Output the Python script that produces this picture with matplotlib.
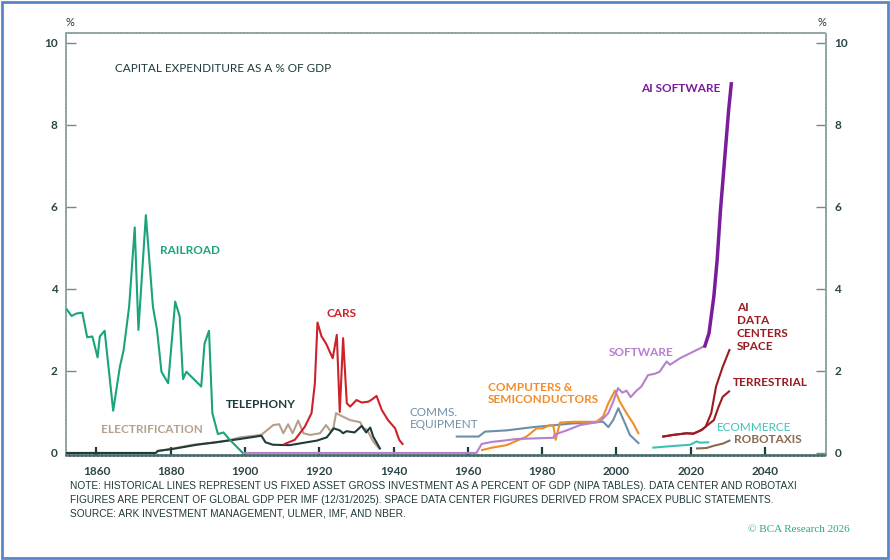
import matplotlib
matplotlib.use("Agg")
import matplotlib.pyplot as plt
from matplotlib.patches import Rectangle

# values (% of GDP)
railroad_years = [1852, 1853.3, 1854.6, 1856.2, 1857.5, 1858.9, 1860.3, 1860.9, 1862.2, 1864.5,
                  1866.3, 1867.3, 1868.8, 1870.3, 1871.3, 1873.3, 1875.2, 1876.3, 1877.5, 1879.3,
                  1881.2, 1882.4, 1883.3, 1884.2, 1888.2, 1889.1, 1890.3, 1891.2, 1892.7, 1894.2,
                  1895.8, 1899.4]
railroad_vals = [3.5, 3.34, 3.4, 3.42, 2.82, 2.84, 2.33, 2.84, 2.98, 1.03,
                 2.1, 2.5, 3.57, 5.5, 3.0, 5.8, 3.57, 3.0, 1.98, 1.7,
                 3.69, 3.33, 1.8, 1.98, 1.62, 2.67, 2.98, 0.97, 0.46, 0.5,
                 0.33, 0.0]

telephony_years = [1852, 1876, 1876.5, 1880.7, 1887, 1893, 1898.6, 1904.4, 1905.5, 1907.5,
                   1912, 1914, 1916.6, 1919.3, 1922, 1923.9, 1925.5, 1926.4, 1927.3, 1929.5,
                   1931.4, 1932.6, 1933.7, 1934.5, 1936.3]
telephony_vals = [0, 0, 0.05, 0.1, 0.2, 0.27, 0.34, 0.42, 0.26, 0.2,
                  0.19, 0.22, 0.26, 0.3, 0.38, 0.6, 0.55, 0.48, 0.53, 0.5,
                  0.66, 0.5, 0.62, 0.4, 0.11]

electrification_years = [1876.5, 1880.7, 1886, 1892.4, 1896.6, 1898.6, 1903.5, 1904.5, 1907.6, 1909.2,
                         1910.3, 1911.6, 1912.8, 1914.3, 1915.7, 1917.5, 1920.2, 1921.8, 1923.1, 1923.8,
                         1924.5, 1926, 1928.3, 1931, 1931.8, 1932.8, 1934.5, 1936.1]
electrification_vals = [0.04, 0.11, 0.2, 0.26, 0.33, 0.38, 0.43, 0.45, 0.68, 0.7,
                        0.48, 0.7, 0.48, 0.79, 0.48, 0.44, 0.48, 0.68, 0.52, 0.62,
                        0.97, 0.9, 0.8, 0.75, 0.61, 0.57, 0.28, 0.11]

cars_years = [1910.7, 1913.4, 1916.1, 1917.9, 1918.8, 1919.5, 1920.6, 1921.8, 1923.6, 1924.7,
              1925.5, 1926.4, 1927.4, 1928.3, 1930.0, 1931.4, 1933.2, 1934.1, 1935.4, 1936.8,
              1938.5, 1940.4, 1941.5, 1942.4]
cars_vals = [0.22, 0.32, 0.64, 0.97, 1.7, 3.18, 2.84, 2.67, 2.31, 2.88,
             1.0, 2.8, 1.21, 1.13, 1.29, 1.23, 1.25, 1.3, 1.39, 1.05,
             0.8, 0.6, 0.32, 0.22]

comms_years = [1957, 1962.9, 1964.6, 1970.4, 1977.6, 1988.3, 1996.4, 1997.8, 1999.1, 2000.5,
               2002.3, 2003.6, 2005.9]
comms_vals = [0.4, 0.4, 0.52, 0.55, 0.63, 0.72, 0.76, 0.63, 0.8, 1.09,
              0.72, 0.44, 0.24]

computers_years = [1963.8, 1966.5, 1970.4, 1975.8, 1978.5, 1980.2, 1982.1, 1983.0, 1983.6, 1984.8,
                   1988.3, 1994.6, 1996.4, 1997.8, 1999.6, 2000.9, 2002.7, 2004.5, 2005.9]
computers_vals = [0.07, 0.13, 0.19, 0.4, 0.6, 0.6, 0.68, 0.66, 0.32, 0.74,
                  0.76, 0.76, 0.89, 1.21, 1.52, 1.25, 0.97, 0.72, 0.48]

software_years = [1900, 1962.3, 1963.7, 1966.5, 1969.5, 1973.1, 1983.0, 1983.4, 1986.6, 1990.2,
                  1995.5, 1997.8, 1999.1, 2000.4, 2001.6, 2002.7, 2003.8, 2005.4, 2006.7, 2008.5,
                  2010.3, 2011.6, 2013.5, 2014.4, 2017.1, 2019.8, 2023.8]
software_vals = [0, 0, 0.22, 0.27, 0.3, 0.34, 0.37, 0.45, 0.55, 0.68,
                 0.76, 0.97, 1.25, 1.58, 1.47, 1.52, 1.36, 1.52, 1.62, 1.9,
                 1.93, 1.98, 2.23, 2.15, 2.31, 2.43, 2.61]

ai_software_years = [2023.8, 2024.9, 2026.2, 2027.1, 2028.0, 2029.1, 2030.2, 2030.9]
ai_software_vals = [2.61, 2.92, 3.81, 4.71, 5.93, 7.15, 8.37, 9.0]

dc_space_years = [2012.6, 2015.3, 2018.9, 2020.7, 2022.9, 2024.0, 2025.5, 2026.8, 2028.6, 2030.4]
dc_space_vals = [0.4, 0.44, 0.48, 0.47, 0.56, 0.64, 0.97, 1.62, 2.1, 2.51]

dc_terr_years = [2012.6, 2015.3, 2018.9, 2020.7, 2022.9, 2024.0, 2026.2, 2027.5, 2028.6, 2030.3]
dc_terr_vals = [0.4, 0.44, 0.48, 0.47, 0.56, 0.64, 0.8, 1.13, 1.37, 1.5]

ecommerce_years = [2009.9, 2015.3, 2019.8, 2021.6, 2022.5, 2024.7]
ecommerce_vals = [0.13, 0.17, 0.2, 0.28, 0.25, 0.26]

robotaxi_years = [2021.7, 2024.2, 2026.0, 2028.7, 2030.4]
robotaxi_vals = [0.11, 0.12, 0.17, 0.23, 0.3]

x_ticks = [1860, 1880, 1900, 1920, 1940, 1960, 1980, 2000, 2020, 2040]
y_ticks = [0, 2, 4, 6, 8, 10]

DARK = "#1f3b3b"
GREEN = "#1aa37c"
TAN = "#b4a08c"
RED = "#cc2229"
GREYBLUE = "#6d8ea8"
ORANGE = "#f08d2a"
LPURPLE = "#b77fd0"
DPURPLE = "#7a1c9c"
DRED = "#9a1b22"
TEAL = "#3fc1b4"
BROWN = "#8b6a52"

plt.rcParams['font.family'] = ['Lato', 'DejaVu Sans']

fig = plt.figure(figsize=(8.9, 5.6), dpi=100)
ax = fig.add_axes([66 / 890, 1 - 455 / 560, (826 - 66) / 890, (455 - 33) / 560])

lw = 1.5
ax.plot(telephony_years, telephony_vals, color=DARK, lw=lw, zorder=3)
ax.plot(electrification_years, electrification_vals, color=TAN, lw=lw, zorder=2)
ax.plot(railroad_years, railroad_vals, color=GREEN, lw=lw, zorder=3)
ax.plot(cars_years, cars_vals, color=RED, lw=lw, zorder=3)
ax.plot(comms_years, comms_vals, color=GREYBLUE, lw=lw, zorder=3)
ax.plot(computers_years, computers_vals, color=ORANGE, lw=lw, zorder=3)
ax.plot(software_years, software_vals, color=LPURPLE, lw=lw, zorder=3)
ax.plot(ai_software_years, ai_software_vals, color=DPURPLE, lw=2.5, zorder=4)
ax.plot(dc_space_years, dc_space_vals, color=DRED, lw=lw, zorder=3)
ax.plot(dc_terr_years, dc_terr_vals, color=DRED, lw=lw, zorder=3)
ax.plot(ecommerce_years, ecommerce_vals, color=TEAL, lw=lw, zorder=3)
ax.plot(robotaxi_years, robotaxi_vals, color=BROWN, lw=lw, zorder=3)

ax.set_xlim(1851.8, 2056.4)
ax.set_ylim(-0.05, 10.24)

# frame
for side in ["top", "right", "left"]:
    ax.spines[side].set_color("#8aa3a1")
    ax.spines[side].set_linestyle((0, (1, 0.8)))
    ax.spines[side].set_linewidth(1.3)
ax.spines["bottom"].set_color("#4c6b6a")
ax.spines["bottom"].set_linestyle((0, (1, 0.6)))
ax.spines["bottom"].set_linewidth(1.8)

ax.set_xticks(x_ticks)
ax.set_yticks(y_ticks)
ax.tick_params(axis="x", direction="in", length=6, width=1.6, color=DARK,
               labelsize=8.5, labelcolor="#2b4444", pad=8)
ax.tick_params(axis="y", direction="in", length=7, width=1.0, color="#6f8b8a",
               labelsize=8.5, labelcolor="#2b4444", pad=6,
               left=True, right=True, labelleft=True, labelright=True)
for lab in ax.get_xticklabels() + ax.get_yticklabels():
    lab.set_fontweight("bold")

fs = 8.5
ax.text(1865.0, 9.37, "CAPITAL EXPENDITURE AS A % OF GDP", color=DARK, fontsize=fs,
        ha="left", va="center")
ax.text(1877.1, 4.93, "RAILROAD", color=GREEN, fontsize=fs, fontweight="bold", va="center")
ax.text(1894.9, 1.17, "TELEPHONY", color=DARK, fontsize=fs, fontweight="bold", va="center")
ax.text(1861.2, 0.56, "ELECTRIFICATION", color=TAN, fontsize=fs, fontweight="bold", va="center")
ax.text(1922.0, 3.39, "CARS", color=RED, fontsize=fs, fontweight="bold", va="center")
ax.text(1944.4, 0.84, "COMMS.\nEQUIPMENT", color=GREYBLUE, fontsize=fs, va="center",
        linespacing=1.15)
ax.text(1965.4, 1.45, "COMPUTERS &\nSEMICONDUCTORS", color=ORANGE, fontsize=fs,
        fontweight="bold", va="center", linespacing=1.15)
ax.text(1998.0, 2.46, "SOFTWARE", color=LPURPLE, fontsize=fs, fontweight="bold", va="center")
ax.text(2006.6, 8.88, "AI SOFTWARE", color=DPURPLE, fontsize=fs, fontweight="bold", va="center")
ax.text(2032.4, 3.07, "AI\nDATA\nCENTERS\nSPACE", color=DRED, fontsize=fs, fontweight="bold",
        va="center", linespacing=1.2)
ax.text(2031.3, 1.71, "TERRESTRIAL", color=DRED, fontsize=fs, fontweight="bold", va="center")
ax.text(2027.0, 0.61, "ECOMMERCE", color=TEAL, fontsize=fs, va="center")
ax.text(2031.6, 0.34, "ROBOTAXIS", color=BROWN, fontsize=fs, fontweight="bold", va="center")

fig.text(70 / 890, 1 - 22 / 560, "%", color=DARK, fontsize=8, ha="center", va="center")
fig.text(822 / 890, 1 - 22 / 560, "%", color=DARK, fontsize=8, ha="center", va="center")

note = ("NOTE: HISTORICAL LINES REPRESENT US FIXED ASSET GROSS INVESTMENT AS A PERCENT OF GDP "
        "(NIPA TABLES). DATA CENTER AND ROBOTAXI\n"
        "FIGURES ARE PERCENT OF GLOBAL GDP PER IMF (12/31/2025). SPACE DATA CENTER FIGURES "
        "DERIVED FROM SPACEX PUBLIC STATEMENTS.\n"
        "SOURCE: ARK INVESTMENT MANAGEMENT, ULMER, IMF, AND NBER.")
fig.text(70 / 890, 1 - 481 / 560, note, color=DARK, fontsize=7.3, ha="left", va="top",
         linespacing=1.45, family=["Liberation Sans Narrow", "Liberation Sans", "DejaVu Sans"])

fig.text(850 / 890, 1 - 530 / 560, "\u00a9 BCA Research 2026", color="#2aa88a", fontsize=8,
         ha="right", va="center", family=["Liberation Serif", "DejaVu Serif"])

fig.patches.append(Rectangle((0.002, 0.003), 0.996, 0.994, transform=fig.transFigure,
                             fill=False, edgecolor="#5b86c5", lw=2))

fig.savefig("out.png", dpi=100, facecolor="white")
